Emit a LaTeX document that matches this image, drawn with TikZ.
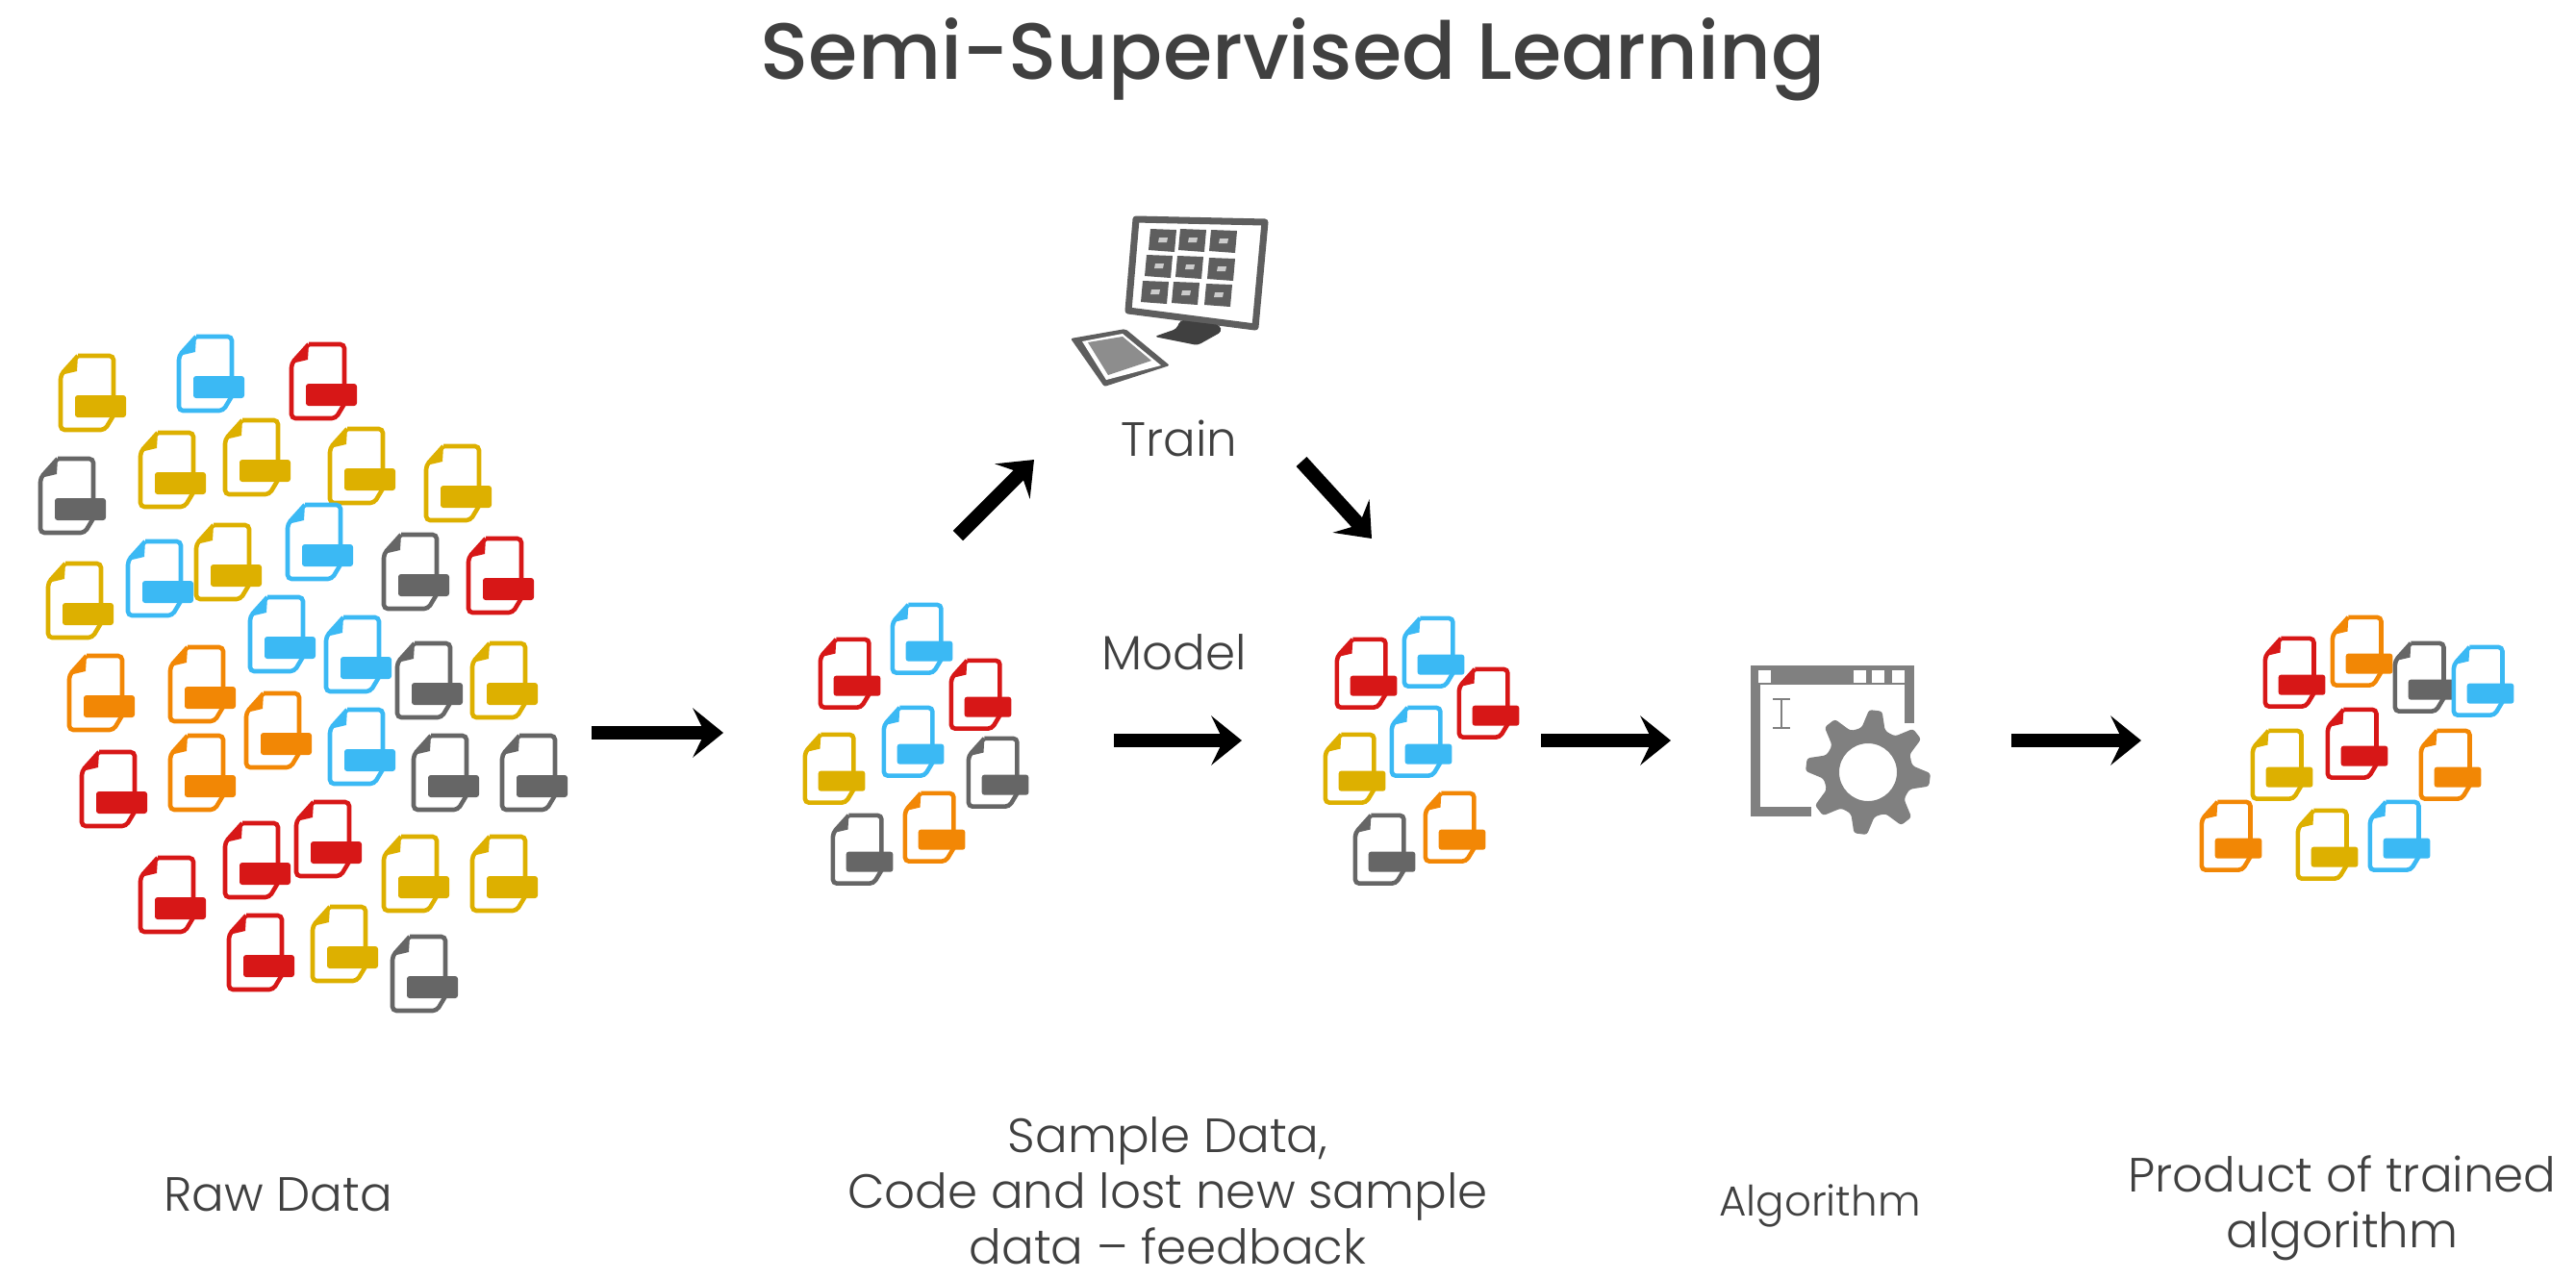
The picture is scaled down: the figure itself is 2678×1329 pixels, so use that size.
\documentclass[tikz,border=0pt]{standalone}
\usepackage{fontspec}
\usepackage{tikz}
\usetikzlibrary{arrows.meta}
\setmainfont[UprightFont=* Medium]{Poppins}
\newfontfamily\labelfont[UprightFont=* Light]{Poppins}

\definecolor{docgold}{HTML}{DDB000}
\definecolor{docblue}{HTML}{3BB9F4}
\definecolor{docred}{HTML}{D71717}
\definecolor{docgray}{HTML}{666666}
\definecolor{docorange}{HTML}{F28705}
\definecolor{inkgray}{HTML}{404040}
\definecolor{iconA}{HTML}{808080}
\definecolor{iconB}{HTML}{5E5E5E}

\tikzset{
    pics/docicon/.style={code={
        \draw[#1, line width=1.3pt, rounded corners=1.2pt] (20,2)--(57,2)--(57,46);
        \draw[#1, line width=1.3pt, rounded corners=1.2pt] (20,2)--(2,22)--(2,79)--(48,79)--(57,64);
        \fill[#1] (2,22)--(20,2)--(19,18)--cycle;
        \fill[#1, rounded corners=0.8pt] (17,43)--(70,43)--(70,66)--(17,66)--cycle;
    }},
    flowarrow/.style={black, line width=4.2pt, -{Stealth[length=9pt, width=14.5pt, inset=3.5pt]}},
    titletext/.style={inkgray, font=\fontsize{23.6}{27}\selectfont},
    labeltext/.style={inkgray, align=center, inner sep=0pt, font=\labelfont\fontsize{14.2}{16.5}\selectfont},
    smalllabel/.style={labeltext, font=\labelfont\fontsize{12.4}{16.5}\selectfont}
}

\begin{document}
\begin{tikzpicture}[x=0.01cm, y=-0.01cm]

            \useasboundingbox (0,0) rectangle (2678,1329);

            \node[titletext] (title) at (1344,62) {Semi-Supervised Learning};

            % raw data
            \foreach \px/\py/\c in {
                61/368/docgold, 184/348/docblue, 301/356/docred, 144/448/docgold,
                232/435/docgold, 341/444/docgold, 441/462/docgold, 40/475/docgray,
                297/523/docblue, 397/554/docgray, 485/558/docred, 202/544/docgold,
                131/561/docblue, 48/584/docgold, 258/619/docblue, 337/640/docblue,
                411/667/docgray, 489/667/docgold, 70/680/docorange, 175/671/docorange,
                254/719/docorange, 341/736/docblue, 428/763/docgray, 520/763/docgray,
                175/763/docorange, 83/780/docred, 306/832/docred, 232/854/docred,
                397/868/docgold, 489/868/docgold, 144/890/docred, 236/950/docred,
                323/941/docgold, 406/972/docgray}
                \pic at (\px,\py) {docicon=\c};

            % sample data
            \foreach \px/\py/\c in {
                851/663/docred, 926/627/docblue, 987/685/docred, 917/734/docblue,
                835/762/docgold, 1005/766/docgray, 939/823/docorange, 864/846/docgray}
                \pic[scale=0.92] at (\px,\py) {docicon=\c};

            % model output
            \foreach \px/\py/\c in {
                1388/663/docred, 1458/641/docblue, 1515/694/docred, 1445/734/docblue,
                1376/762/docgold, 1480/823/docorange, 1407/846/docgray}
                \pic[scale=0.92] at (\px,\py) {docicon=\c};

            % product
            \foreach \px/\py/\c in {
                2353/662/docred, 2423/640/docorange, 2488/667/docgray, 2549/671/docblue,
                2418/736/docred, 2340/758/docgold, 2515/758/docorange, 2287/832/docorange,
                2387/841/docgold, 2462/832/docblue}
                \pic[scale=0.92] at (\px,\py) {docicon=\c};

            % monitor and tablet
            \draw[iconB, line width=2pt, fill=white, line join=round] (1181,228)--(1315,231)--(1305,340)--(1173,323)--cycle;
            \foreach \px/\py in {1196/238, 1227/238, 1259/239, 1192/265, 1224/266, 1257/268, 1188/292, 1220/293, 1254/295} {
                \fill[iconB] (\px,\py)--++(27,1)--++(-2,23)--++(-27,-2)--cycle;
                \fill[white!80!black] (\px+9,\py+9)--++(9,0)--++(-1,5)--++(-9,0)--cycle;
            }
            \fill[inkgray, rounded corners=1pt] (1227,333)--(1268,338)--(1270,345)--(1245,359)--(1200,350)--(1223,342)--cycle;
            \fill[iconB, rounded corners=0.6pt] (1113,352)--(1170,342)--(1216,380)--(1148,402)--cycle;
            \fill[white] (1125,355)--(1167,347)--(1207,380)--(1150,395)--cycle;
            \fill[iconA!90!white] (1131,356)--(1167,350)--(1197,375)--(1152,390)--cycle;

            \node[labeltext] (train) at (1226,456) {Train};
            \node[labeltext] (model) at (1221,678) {Model};

            % window and gear
            \draw[iconA, line width=2.6pt] (1985,752)--(1985,697)--(1825,697)--(1825,844)--(1883,844);
            \fill[iconA] (1820,692) rectangle (1989,712);
            \foreach \px in {1828,1927,1946,1967}
                \fill[white] (\px,697) rectangle ++(13,13);
            \draw[iconA, line width=0.8pt] (1852,727)--(1852,757) (1843,727)--(1861,727) (1843,757)--(1861,757);
            \coordinate (gearcentre) at (1942,803);
            \begin{scope}[shift={(gearcentre)}]
                \fill[iconA, even odd rule, rounded corners=0.8pt] (-15.5:46) foreach \a in {7,52,...,322} {
                    --(\a-15:47)--(\a-6:65)--(\a+6:65)--(\a+15:47)--(\a+22.5:46)} --cycle
                    (0,0) circle (30);
            \end{scope}

            % arrows
            \coordinate (rawout) at (615,762);
            \coordinate (samplein) at (752,762);
            \coordinate (sampleup) at (996,557);
            \coordinate (trainin) at (1075,478);
            \coordinate (trainout) at (1353,480);
            \coordinate (modeldown) at (1426,560);
            \coordinate (modelfrom) at (1158,770);
            \coordinate (modelto) at (1291,770);
            \coordinate (algofrom) at (1602,770);
            \coordinate (algoto) at (1737,770);
            \coordinate (prodfrom) at (2091,770);
            \coordinate (prodto) at (2226,770);

            \draw[flowarrow] (rawout)--(samplein);
            \draw[flowarrow] (sampleup)--(trainin);
            \draw[flowarrow] (trainout)--(modeldown);
            \draw[flowarrow] (modelfrom)--(modelto);
            \draw[flowarrow] (algofrom)--(algoto);
            \draw[flowarrow] (prodfrom)--(prodto);

            % bottom labels
            \node[labeltext] (rawlabel) at (289,1242) {Raw Data};
            \node[labeltext] (samplelabel) at (1214,1238) {Sample Data,\\Code and lost new sample\\data – feedback};
            \node[smalllabel] (algolabel) at (1892,1254) {Algorithm};
            \node[labeltext] (prodlabel) at (2435,1256) {Product of trained\\algorithm};

        \end{tikzpicture}
\end{document}
